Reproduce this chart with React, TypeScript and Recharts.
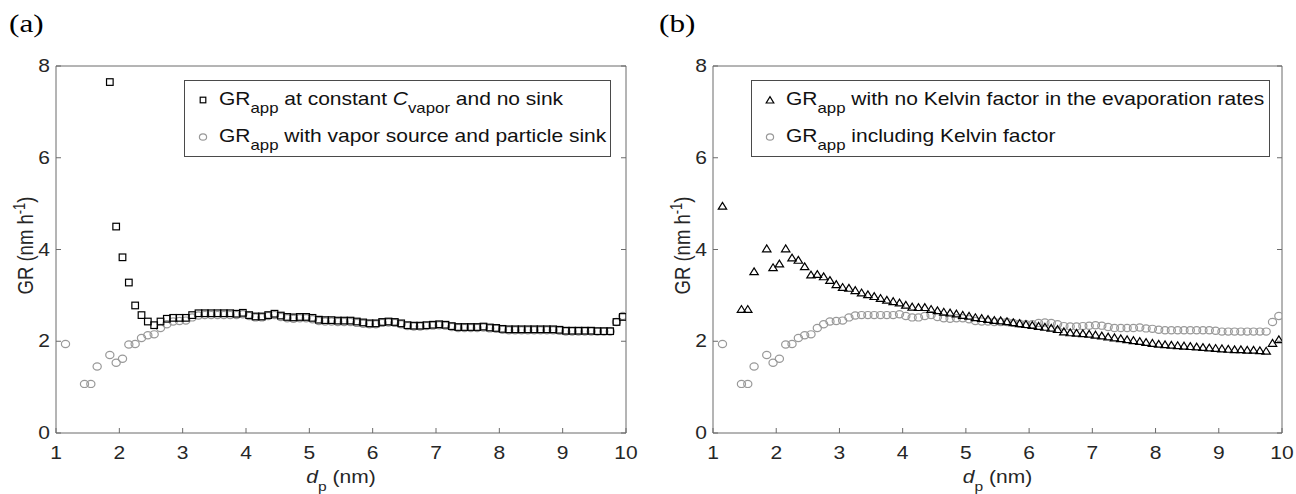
import React from 'react';
import { ScatterChart, Scatter, XAxis, YAxis } from 'recharts';

// particle diameter d_p (nm)
const dp = [1.15,1.25,1.35,1.45,1.55,1.65,1.75,1.85,1.95,2.05,2.15,2.25,2.35,2.45,2.55,2.65,2.75,2.85,2.95,3.05,3.15,3.25,3.35,3.45,3.55,3.65,3.75,3.85,3.95,4.05,4.15,4.25,4.35,4.45,4.55,4.65,4.75,4.85,4.95,5.05,5.15,5.25,5.35,5.45,5.55,5.65,5.75,5.85,5.95,6.05,6.15,6.25,6.35,6.45,6.55,6.65,6.75,6.85,6.95,7.05,7.15,7.25,7.35,7.45,7.55,7.65,7.75,7.85,7.95,8.05,8.15,8.25,8.35,8.45,8.55,8.65,8.75,8.85,8.95,9.05,9.15,9.25,9.35,9.45,9.55,9.65,9.75,9.85,9.95];

// (a) GR_app at constant C_vapor and no sink
const grConstVapor: (number | null)[] = [
  null,null,null,null,null,null,null,
  7.65,4.50,3.83,3.28,2.78,2.57,2.43,2.35,2.43,2.49,
  2.51,2.51,2.51,2.57,2.61,2.61,2.61,2.61,2.61,2.61,
  2.60,2.62,2.57,2.54,2.54,2.57,2.60,2.56,2.53,2.52,
  2.53,2.53,2.51,2.47,2.46,2.46,2.45,2.45,2.45,2.43,
  2.41,2.39,2.39,2.42,2.43,2.42,2.39,2.35,2.34,2.34,
  2.35,2.36,2.37,2.36,2.33,2.31,2.31,2.31,2.31,2.32,
  2.30,2.29,2.27,2.26,2.26,2.26,2.26,2.26,2.26,2.26,
  2.26,2.25,2.23,2.23,2.23,2.23,2.23,2.22,2.22,2.22,
  2.42,2.53,
];

// (a) GR_app with vapor source and particle sink  /  (b) GR_app including Kelvin factor
const grSourceSink: (number | null)[] = [
  1.94,null,null,1.07,1.07,1.45,null,
  1.70,1.53,1.62,1.93,1.94,2.07,2.13,2.15,2.29,2.37,
  2.43,2.44,2.45,2.52,2.56,2.57,2.57,2.57,2.57,2.57,
  2.57,2.59,2.55,2.52,2.52,2.55,2.57,2.53,2.50,2.49,
  2.50,2.50,2.48,2.44,2.43,2.43,2.42,2.42,2.42,2.40,
  2.38,2.37,2.37,2.40,2.41,2.40,2.37,2.33,2.32,2.32,
  2.33,2.34,2.35,2.34,2.31,2.29,2.29,2.29,2.29,2.30,
  2.28,2.27,2.25,2.24,2.24,2.24,2.24,2.24,2.24,2.24,
  2.24,2.23,2.21,2.21,2.21,2.21,2.21,2.21,2.21,2.21,
  2.42,2.55,
];
const grWithKelvin = grSourceSink;

// (b) GR_app with no Kelvin factor in the evaporation rates
const grNoKelvin: (number | null)[] = [
  4.95,null,null,2.70,2.70,3.52,null,
  4.02,3.61,3.69,4.02,3.82,3.77,3.63,3.45,3.46,3.41,
  3.33,3.24,3.18,3.16,3.11,3.06,3.02,2.98,2.94,2.90,
  2.87,2.84,2.79,2.75,2.74,2.74,2.70,2.67,2.64,2.62,
  2.60,2.57,2.55,2.52,2.50,2.48,2.46,2.45,2.43,2.41,
  2.39,2.37,2.35,2.33,2.31,2.29,2.26,2.21,2.19,2.18,
  2.17,2.16,2.14,2.12,2.10,2.08,2.06,2.04,2.02,2.00,
  1.98,1.96,1.94,1.93,1.92,1.91,1.90,1.89,1.88,1.87,
  1.86,1.85,1.84,1.83,1.82,1.82,1.81,1.81,1.80,1.79,
  1.96,2.04,
];

const xTicks = [1, 2, 3, 4, 5, 6, 7, 8, 9, 10];
const yTicks = [0, 2, 4, 6, 8];

const toPoints = (ys: (number | null)[]) =>
  dp.map((x, i) => ({ x, y: ys[i] })).filter((p) => p.y !== null);

const FONT = '"Liberation Sans", Arial, Helvetica, sans-serif';
const AX = '#6b6b6b';
const TXT = '#262626';
const GREY = '#999999';
const SX = 1.2; // horizontal stretch of the original figure
const FS = 17.5;

const SquareShape = (p: any) => (
  <rect x={p.cx - 3.3} y={p.cy - 3.3} width={6.6} height={6.6} fill="none" stroke="#000" strokeWidth={1.2} />
);
const CircleShape = (p: any) => (
  <ellipse cx={p.cx} cy={p.cy} rx={4.1} ry={3.6} fill="none" stroke={GREY} strokeWidth={1.2} />
);
const TriangleShape = (p: any) => (
  <path d={`M${p.cx - 4.2},${p.cy + 3.2} L${p.cx + 4.2},${p.cy + 3.2} L${p.cx},${p.cy - 3.6} Z`} fill="none" stroke="#000" strokeWidth={1.2} />
);

const BottomTick = (p: any) => (
  <g>
    <line x1={p.x} y1={p.y} x2={p.x} y2={p.y - 5} stroke={AX} />
    <text transform={`translate(${p.x},${p.y + 26}) scale(${SX},1)`} textAnchor="middle" fontSize={FS} fill={TXT} fontFamily={FONT}>
      {p.payload.value}
    </text>
  </g>
);
const LeftTick = (p: any) => (
  <g>
    <line x1={p.x} y1={p.y} x2={p.x + 5} y2={p.y} stroke={AX} />
    <text transform={`translate(${p.x - 6},${p.y + 6.2}) scale(${SX},1)`} textAnchor="end" fontSize={FS} fill={TXT} fontFamily={FONT}>
      {p.payload.value}
    </text>
  </g>
);
const TopTick = (p: any) => <line x1={p.x} y1={p.y} x2={p.x} y2={p.y + 5} stroke={AX} />;
const RightTick = (p: any) => <line x1={p.x} y1={p.y} x2={p.x - 5} y2={p.y} stroke={AX} />;

const XLabel = (props: any) => {
  const vb = props.viewBox;
  return (
    <text transform={`translate(${vb.x + vb.width / 2},${vb.y + 49.5}) scale(${SX},1)`} textAnchor="middle" fontSize={FS} fill={TXT} fontFamily={FONT}>
      <tspan fontStyle="italic">d</tspan>
      <tspan dy={8} fontSize={13}>p</tspan>
      <tspan dy={-8}> (nm)</tspan>
    </text>
  );
};
const YLabel = (props: any) => {
  const vb = props.viewBox;
  const ax = vb.x + vb.width;
  return (
    <text transform={`translate(${ax - 23},${vb.y + vb.height / 2 - 4}) scale(${SX},1) rotate(-90)`} textAnchor="middle" fontSize={18.5} fill={TXT} fontFamily={FONT}>
      <tspan>GR (nm h</tspan>
      <tspan dy={-7} fontSize={13}>-1</tspan>
      <tspan dy={7}>)</tspan>
    </text>
  );
};

type Entry = { marker: 'square' | 'circle' | 'triangle'; parts: React.ReactNode };

const LegendBox = ({ left, top, width, height, entries }: { left: number; top: number; width: number; height: number; entries: Entry[] }) => (
  <svg style={{ position: 'absolute', left, top }} width={width} height={height}>
    <rect x={0.5} y={0.5} width={width - 1} height={height - 1} fill="#fff" stroke="#4a4a4a" strokeWidth={1} />
    {entries.map((e, i) => {
      const my = 20 + i * 37;
      const mx = 19;
      let m: React.ReactNode = null;
      if (e.marker === 'square') m = <rect x={mx - 2.8} y={my - 2.8} width={5.6} height={5.6} fill="none" stroke="#000" strokeWidth={1.2} />;
      if (e.marker === 'circle') m = <ellipse cx={mx} cy={my} rx={3.6} ry={3.2} fill="none" stroke={GREY} strokeWidth={1.2} />;
      if (e.marker === 'triangle') m = <path d={`M${mx - 3.8},${my + 3} L${mx + 3.8},${my + 3} L${mx},${my - 3.3} Z`} fill="none" stroke="#000" strokeWidth={1.2} />;
      return (
        <g key={i}>
          {m}
          <text transform={`translate(35,${25 + i * 37}) scale(${SX},1)`} fontSize={FS} fill="#111" fontFamily={FONT}>
            {e.parts}
          </text>
        </g>
      );
    })}
  </svg>
);

const legendA: Entry[] = [
  {
    marker: 'square',
    parts: (
      <>
        <tspan>GR</tspan>
        <tspan dy={8} fontSize={14}>app</tspan>
        <tspan dy={-8}> at constant </tspan>
        <tspan fontStyle="italic">C</tspan>
        <tspan dy={8} fontSize={14}>vapor</tspan>
        <tspan dy={-8}> and no sink</tspan>
      </>
    ),
  },
  {
    marker: 'circle',
    parts: (
      <>
        <tspan>GR</tspan>
        <tspan dy={8} fontSize={14}>app</tspan>
        <tspan dy={-8}> with vapor source and particle sink</tspan>
      </>
    ),
  },
];

const legendB: Entry[] = [
  {
    marker: 'triangle',
    parts: (
      <>
        <tspan>GR</tspan>
        <tspan dy={8} fontSize={14}>app</tspan>
        <tspan dy={-8}> with no Kelvin factor in the evaporation rates</tspan>
      </>
    ),
  },
  {
    marker: 'circle',
    parts: (
      <>
        <tspan>GR</tspan>
        <tspan dy={8} fontSize={14}>app</tspan>
        <tspan dy={-8}> including Kelvin factor</tspan>
      </>
    ),
  },
];

const Panel = ({
  yAxisWidth,
  rightMargin,
  series,
}: {
  yAxisWidth: number;
  rightMargin: number;
  series: { data: { x: number; y: number | null }[]; shape: any; name: string }[];
}) => (
  <ScatterChart width={648} height={494} margin={{ top: 61, right: rightMargin, bottom: 0, left: 0 }}>
    <XAxis
      xAxisId="b"
      dataKey="x"
      type="number"
      domain={[1, 10]}
      ticks={xTicks}
      interval={0}
      allowDataOverflow
      height={61}
      tickSize={0}
      tickMargin={0}
      tick={BottomTick}
      axisLine={{ stroke: AX }}
      tickLine={false}
      label={{ content: XLabel }}
    />
    <XAxis
      xAxisId="t"
      orientation="top"
      type="number"
      domain={[1, 10]}
      ticks={xTicks}
      interval={0}
      allowDataOverflow
      height={5}
      tickSize={0}
      tickMargin={0}
      tick={TopTick}
      axisLine={{ stroke: AX }}
      tickLine={false}
    />
    <YAxis
      yAxisId="l"
      dataKey="y"
      type="number"
      domain={[0, 8]}
      ticks={yTicks}
      interval={0}
      allowDataOverflow
      width={yAxisWidth}
      tickSize={0}
      tickMargin={0}
      tick={LeftTick}
      axisLine={{ stroke: AX }}
      tickLine={false}
      label={{ content: YLabel }}
    />
    <YAxis
      yAxisId="r"
      orientation="right"
      type="number"
      domain={[0, 8]}
      ticks={yTicks}
      interval={0}
      allowDataOverflow
      width={5}
      tickSize={0}
      tickMargin={0}
      tick={RightTick}
      axisLine={{ stroke: AX }}
      tickLine={false}
    />
    {series.map((s) => (
      <Scatter key={s.name} name={s.name} xAxisId="b" yAxisId="l" data={s.data} dataKey="y" shape={s.shape} isAnimationActive={false} />
    ))}
  </ScatterChart>
);

export default function App() {
  return (
    <div style={{ position: 'absolute', left: 0, top: 0, width: 1296, height: 494, background: '#fff', fontFamily: FONT }}>
      <div style={{ position: 'absolute', left: 0, top: 0 }}>
        <Panel
          yAxisWidth={56}
          rightMargin={17}
          series={[
            { name: 'sourceSink', data: toPoints(grSourceSink), shape: CircleShape },
            { name: 'constVapor', data: toPoints(grConstVapor), shape: SquareShape },
          ]}
        />
        <LegendBox left={184} top={80} width={427} height={77} entries={legendA} />
      </div>
      <div style={{ position: 'absolute', left: 648, top: 0 }}>
        <Panel
          yAxisWidth={65}
          rightMargin={9}
          series={[
            { name: 'withKelvin', data: toPoints(grWithKelvin), shape: CircleShape },
            { name: 'noKelvin', data: toPoints(grNoKelvin), shape: TriangleShape },
          ]}
        />
        <LegendBox left={103} top={80} width={519} height={77} entries={legendB} />
      </div>
      <svg style={{ position: 'absolute', left: 0, top: 0 }} width={1296} height={40}>
        <text transform={`translate(9,32) scale(${SX},1)`} fontSize={26} fontFamily='"Liberation Serif", "Times New Roman", serif' fill="#000">(a)</text>
        <text transform={`translate(659,32) scale(${SX},1)`} fontSize={26} fontFamily='"Liberation Serif", "Times New Roman", serif' fill="#000">(b)</text>
      </svg>
    </div>
  );
}
